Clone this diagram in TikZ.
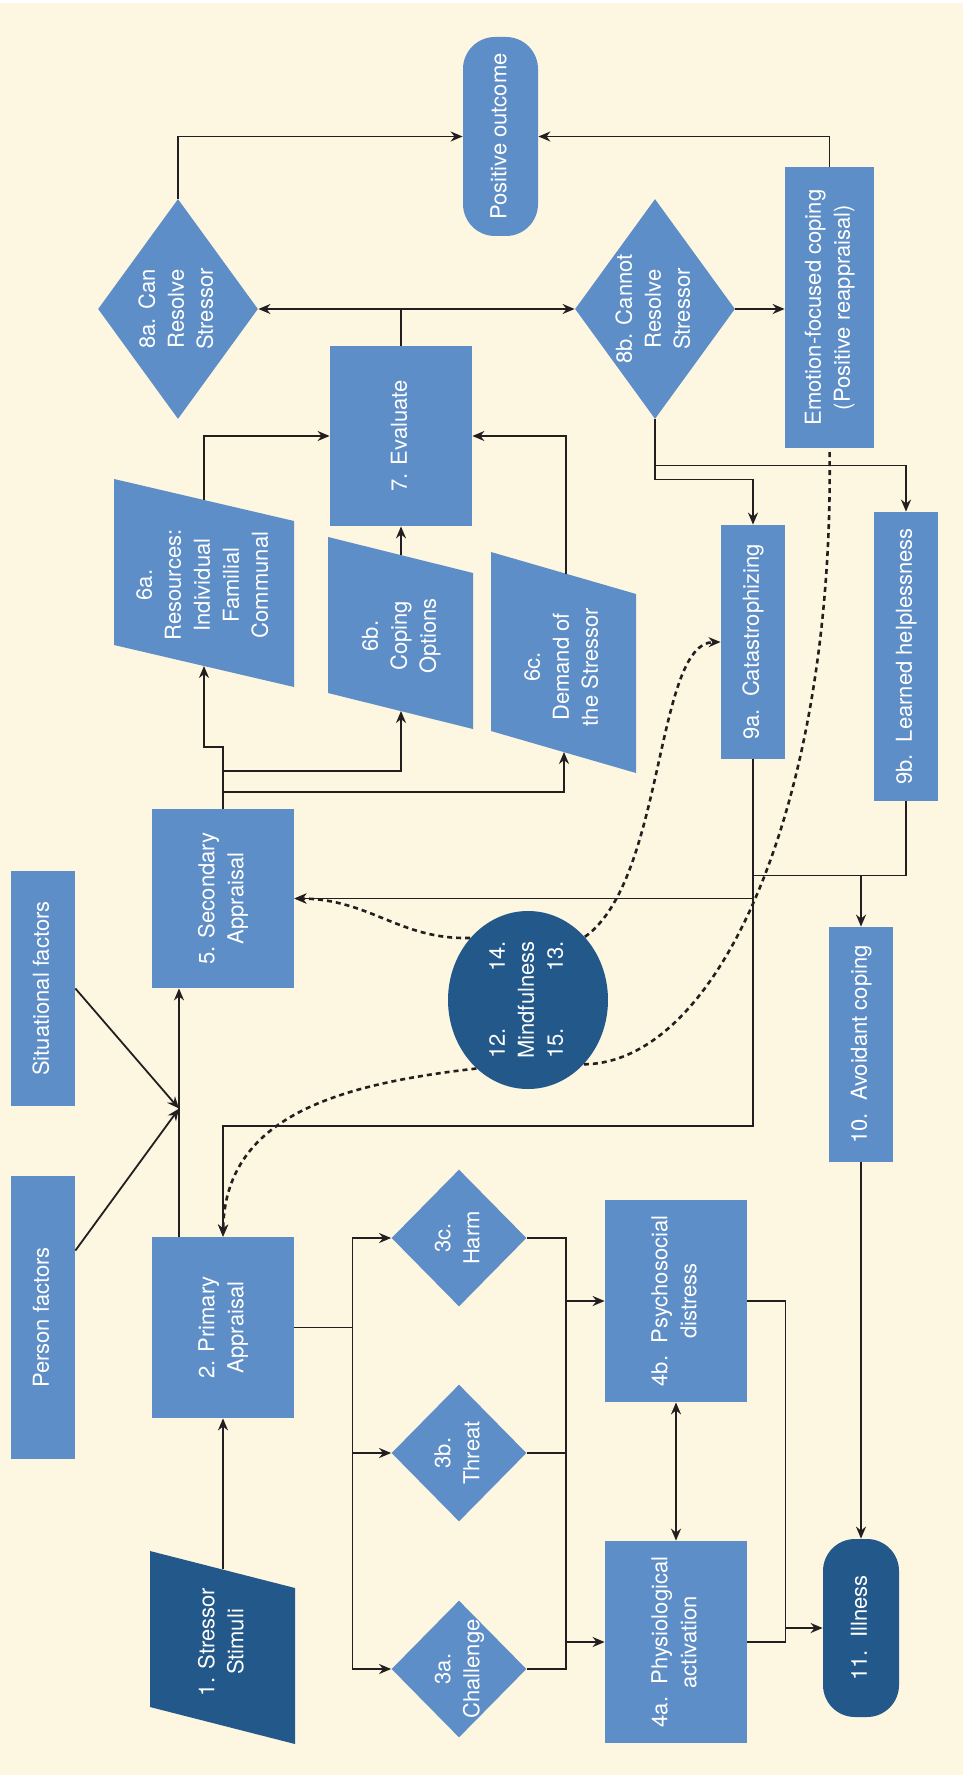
\documentclass[tikz,border=0pt]{standalone}
\usepackage{fontspec}
\setmainfont{TeX Gyre Heros}
\usepackage{graphicx}
\usepackage{tikz}
\usetikzlibrary{arrows.meta,shapes.geometric,calc}

\definecolor{cream}{RGB}{253,246,224}
\definecolor{lblue}{RGB}{94,142,200}
\definecolor{dblue}{RGB}{35,88,138}
\definecolor{ink}{RGB}{35,31,32}

\newcommand{\vtext}[1]{\rotatebox{90}{\begin{tabular}{@{}c@{}}#1\end{tabular}}}

\begin{document}
\begin{tikzpicture}[x=0.5pt,y=-0.5pt,>={Stealth[length=6pt,width=5pt]},font=\fontsize{11}{14.5}\selectfont,
	box/.style={rectangle,fill=lblue,text=white,inner sep=0pt},
	pill/.style={box,rounded corners=16pt},
	dia/.style={diamond,fill=lblue,inner sep=0pt,minimum width=80pt,minimum height=110pt},
	sdia/.style={dia,minimum width=67.5pt,minimum height=68.5pt},
	lbl/.style={text=white,inner sep=0pt},
	con/.style={draw=ink,line width=0.9pt},
	arr/.style={con,->},
	arr2/.style={con,<->},
	dashline/.style={draw=ink,dash pattern=on 2.5pt off 2pt,line width=1.3pt}]
			
			\fill[white] (0,0) rectangle (963,1775);
			\fill[cream] (0,3) rectangle (963,1775);
			\useasboundingbox (0,0) rectangle (963,1775);
			
			\node[pill,minimum width=37.5pt,minimum height=99.5pt] 	(pos) at (500.5,136.5) {\vtext{Positive outcome}};
			\node[dia,label={[lbl]center:\vtext{8a. Can\\Resolve\\Stressor}}] 	(e8a) at (178,309) {};
			\node[dia,label={[lbl]center:\vtext{8b. Cannot\\Resolve\\Stressor}}] 	(e8b) at (655,309) {};
			\node[box,minimum width=44.5pt,minimum height=140.5pt] 	(emo) at (829.5,307.5) {\vtext{Emotion-focused coping\\(Positive reappraisal)}};
			\node[box,minimum width=71pt,minimum height=90pt] 	(eval7) at (401,436) {\vtext{7. Evaluate}};
			
			\fill[lblue] (114,479) -- (294,521) -- (294,687) -- (114,645) -- cycle;
			\node[lbl] 	(r6a) at (204,585) {\vtext{6a.\\Resources:\\Individual\\Familial\\Communal}};
			\fill[lblue] (328,537) -- (473,573) -- (473,729) -- (328,693) -- cycle;
			\node[lbl] 	(r6b) at (401,636) {\vtext{6b.\\Coping\\Options}};
			\fill[lblue] (491,552) -- (636,594) -- (636,773) -- (491,731) -- cycle;
			\node[lbl] 	(r6c) at (563,667) {\vtext{6c.\\Demand of\\the Stressor}};
			\coordinate (r6a-t) at (204,500);
			\coordinate (r6a-b) at (204,666);
			\coordinate (r6b-t) at (401,555);
			\coordinate (r6b-b) at (401,711);
			\coordinate (r6c-t) at (566,574);
			\coordinate (r6c-b) at (564,752);
			
			\node[box,minimum width=32pt,minimum height=117pt] 	(c9a) at (753,642) {\vtext{9a.\ \ Catastrophizing}};
			\node[box,minimum width=32pt,minimum height=144.5pt] 	(c9b) at (906,656.5) {\vtext{9b.\ \ Learned helplessness}};
			\node[box,minimum width=71pt,minimum height=89.5pt] 	(sec5) at (223,898.5) {\vtext{5. Secondary\\Appraisal}};
			\node[box,minimum width=32pt,minimum height=117.5pt] 	(sit) at (43,988.5) {\vtext{Situational factors}};
			\node[box,minimum width=32pt,minimum height=141.5pt] 	(per) at (43,1317.5) {\vtext{Person factors}};
			\node[ellipse,fill=dblue,text=white,inner sep=0pt,minimum width=80pt,minimum height=89pt] 	(mind) at (528,1000)
				{\rotatebox{90}{\begin{tabular}{@{}l@{}r@{}}12.&14.\\\multicolumn{2}{@{}c@{}}{Mindfulness}\\15.&13.\end{tabular}}};
			\node[box,minimum width=32pt,minimum height=117.5pt] 	(avoid10) at (861,1044.5) {\vtext{10.\ \ Avoidant coping}};
			\node[box,minimum width=71pt,minimum height=90.5pt] 	(prim2) at (223,1327.5) {\vtext{2. Primary\\Appraisal}};
			\node[sdia,label={[lbl]center:\vtext{3c.\\Harm}}] 	(d3c) at (459,1238) {};
			\node[sdia,label={[lbl]center:\vtext{3b.\\Threat}}] 	(d3b) at (459,1453) {};
			\node[sdia,label={[lbl]center:\vtext{3a.\\Challenge}}] 	(d3a) at (459,1669) {};
			\node[box,minimum width=71pt,minimum height=101pt] 	(p4b) at (676,1301) {\vtext{4b.\ \ Psychosocial\\distress}};
			\node[box,minimum width=71pt,minimum height=101pt] 	(p4a) at (676,1642) {\vtext{4a.\ \ Physiological\\activation}};
			\node[pill,fill=dblue,minimum width=38pt,minimum height=89pt] 	(ill11) at (861,1628) {\vtext{11.\ \ Illness}};
			\fill[dblue] (150,1551) -- (295,1588) -- (295,1744) -- (150,1707) -- cycle;
			\node[lbl] 	(st1) at (223,1642) {\vtext{1. Stressor\\Stimuli}};
			\coordinate (st1-t) at (223,1569);
			
			\draw[arr] (e8a.north) |- (pos.west);
			\draw[arr] (emo.north) |- (pos.east);
			\draw[con] (eval7.north) -- (eval7.north |- e8a.east) coordinate (j7);
			\draw[arr] (j7) -- (e8a.east);
			\draw[arr] (j7) -- (e8b.west);
			\draw[arr] (e8b.east) -- (e8b.east -| emo.west);
			
			\draw[arr] (r6a-t) |- (eval7.west);
			\draw[arr] (r6b-t) -- (eval7.south);
			\draw[arr] (r6c-t) |- (eval7.east);
			\draw[arr] (sec5.north) -- ++(0,-62) -| (r6a-b);
			\draw[arr] ($(sec5.north)+(0,-38)$) -| (r6b-b);
			\draw[arr] ($(sec5.north)+(0,-17)$) -| (r6c-b);
			
			\draw[arr] (e8b.south) -- ++(0,60) -| (c9a.north);
			\draw[arr] ($(e8b.south)+(0,46)$) -| (c9b.north);
			\draw[con] (c9b.south) -- ++(0,74) coordinate (j9) -- (j9 -| c9a.south);
			\draw[arr] (j9 -| avoid10.north) -- (avoid10.north);
			\draw[arr] (c9a.south) |- ($(prim2.north)+(0,-111)$) -- (prim2.north);
			\draw[arr] (c9a.south |- sec5.east) -- (sec5.east);
			
			\draw[arr] ($(prim2.north)+(-44,0)$) coordinate (j2) -- (j2 |- sec5.south);
			\coordinate (mix) at ($(j2)+(0,-128)$);
			\draw[arr] (sit.east) -- (mix);
			\draw[arr] ($(per.east)+(0,-67)$) -- (mix);
			\draw[arr] (st1-t) -- (prim2.south);
			
			\draw[con] (prim2.east) -- ++(58,0) coordinate (j3);
			\draw[con] (j3 |- d3c.west) -- (j3 |- d3a.west);
			\foreach \nd in {d3a,d3b,d3c}
				\draw[arr] (j3 |- \nd.west) -- (\nd.west);
			\draw[con] (d3c.east) -- ++(39,0) coordinate (j4) -- (j4 |- d3a.east) -- (d3a.east);
			\draw[con] (d3b.east) -- (j4 |- d3b.east);
			\draw[arr] (j4 |- p4b.west) -- (p4b.west);
			\draw[arr] (j4 |- p4a.west) -- (p4a.west);
			\draw[arr2] (p4b.south) -- (p4a.north);
			\draw[con] (p4b.east) -- ++(38,0) coordinate (j11) -- (j11 |- p4a.east) -- (p4a.east);
			\draw[arr] (j11 |- ill11.west) -- (ill11.west);
			\draw[arr] (avoid10.south) -- (ill11.north);
			
			\draw[dashline,->] (mind.133) .. controls (400,940) and (370,899) .. (sec5.east);
			\draw[dashline,->] (mind.48) .. controls (665,880) and (655,643) .. (c9a.west);
			\draw[dashline] (mind.311) .. controls (720,1063) and (835,800) .. (emo.south);
			\draw[dashline,->] (mind.233) .. controls (330,1085) and (225,1120) .. (prim2.north);
		\end{tikzpicture}
\end{document}
